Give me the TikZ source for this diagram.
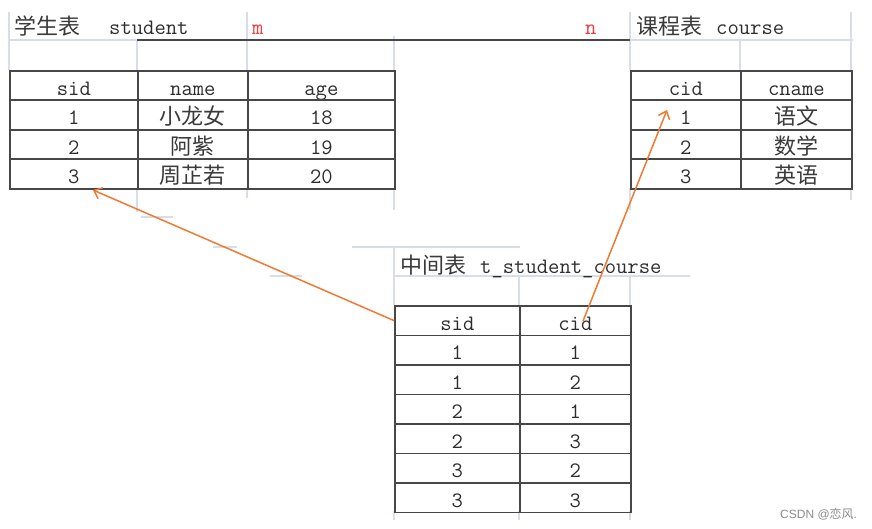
\documentclass[tikz,border=0pt]{standalone}
\usepackage{fontspec}
\newfontfamily\cjk{Noto Sans CJK SC}
\newfontfamily\wmfont{Liberation Sans}
\usetikzlibrary{arrows.meta,calc}
\definecolor{tbl}{HTML}{474747}
\definecolor{gridc}{HTML}{D8DDEA}
\definecolor{txt}{HTML}{2E2E2E}
\definecolor{cjkc}{HTML}{3A3A3A}
\definecolor{arr}{HTML}{F07A32}
\definecolor{mred}{HTML}{F03C3C}
\newcommand\tabfont{\ttfamily\addfontfeature{FakeBold=0.8}\fontsize{22}{24}\selectfont}
\newcommand\hz[1]{{\cjk\color{cjkc}#1}}
\tikzset{
  cellbox/.style={draw=tbl,line width=1.7pt,rectangle,inner sep=0pt,anchor=north west,
    minimum height=29.5pt,text height=19pt,text depth=0pt,font=\tabfont,text=txt},
  titletext/.style={anchor=base west,inner sep=0pt,font=\tabfont,text=txt},
  gridln/.style={draw=gridc,line width=1.5pt},
  conn/.style={draw=arr,line width=1.5pt,-{Straight Barb[length=7pt,width=12pt]}}
}
\newcommand\tcell[5]{\node[cellbox,minimum width=#4pt] (#1) at (#2,#3) {#5};}
\begin{document}
\begin{tikzpicture}[x=1pt,y=-1pt]
\fill[white] (0,0) rectangle (872,529);
\useasboundingbox (0,0) rectangle (872,529);
% light grid lines
\draw[gridln] (9,12) -- (9,70);
\draw[gridln] (9,40) -- (137,40);
\draw[gridln] (137,40) -- (137,70);
\draw[gridln] (247,12) -- (247,70);
\draw[gridln] (394,36) -- (394,70);
\draw[gridln] (137,188) -- (137,212);
\draw[gridln] (247,188) -- (247,198);
\draw[gridln] (394,188) -- (394,210);
\draw[gridln] (630,12) -- (630,70);
\draw[gridln] (740,40) -- (740,70);
\draw[gridln] (851,12) -- (851,70);
\draw[gridln] (630,40) -- (853,40);
\draw[gridln] (630,188) -- (630,210);
\draw[gridln] (851,188) -- (851,200);
\draw[gridln] (141,217) -- (173,217);
\draw[gridln] (213,247) -- (237,247);
\draw[gridln] (270,276) -- (302,276);
\draw[gridln] (352,247) -- (520,247);
\draw[gridln] (394,247) -- (394,305);
\draw[gridln] (393,276) -- (690,276);
\draw[gridln] (519,276) -- (519,305);
\draw[gridln] (630,276) -- (630,305);
\draw[gridln] (394,511) -- (394,520);
\draw[gridln] (519,511) -- (519,520);
\draw[gridln] (630,511) -- (630,520);
% dark line
\draw[draw=tbl,line width=1.8pt] (137,40) -- (630,40);
% titles
\node[titletext] (tstu) at (14,35) {\hz{学生表}\hspace{29pt}student};
\node[titletext,text=mred] (mlab) at (252,35) {m};
\node[titletext,text=mred] (nlab) at (585,35) {n};
\node[titletext] (tcou) at (636,35) {\hz{课程表}\hspace{14pt}course};
\node[titletext] (tmid) at (400,273) {\hz{中间表}\hspace{14pt}t\_student\_course};
% student table
\tcell{s-0-0}{9}{70}{128}{sid}
\tcell{s-0-1}{137}{70}{110}{name}
\tcell{s-0-2}{247}{70}{147}{age}
\tcell{s-1-0}{9}{99.5}{128}{1}
\tcell{s-1-1}{137}{99.5}{110}{\hz{小龙女}}
\tcell{s-1-2}{247}{99.5}{147}{18}
\tcell{s-2-0}{9}{129}{128}{2}
\tcell{s-2-1}{137}{129}{110}{\hz{阿紫}}
\tcell{s-2-2}{247}{129}{147}{19}
\tcell{s-3-0}{9}{158.5}{128}{3}
\tcell{s-3-1}{137}{158.5}{110}{\hz{周芷若}}
\tcell{s-3-2}{247}{158.5}{147}{20}
% course table
\tcell{c-0-0}{630}{70}{110}{cid}
\tcell{c-0-1}{740}{70}{111}{cname}
\tcell{c-1-0}{630}{99.5}{110}{1}
\tcell{c-1-1}{740}{99.5}{111}{\hz{语文}}
\tcell{c-2-0}{630}{129}{110}{2}
\tcell{c-2-1}{740}{129}{111}{\hz{数学}}
\tcell{c-3-0}{630}{158.5}{110}{3}
\tcell{c-3-1}{740}{158.5}{111}{\hz{英语}}
% middle table
\tcell{t-0-0}{394}{305}{125}{sid}
\tcell{t-0-1}{519}{305}{111}{cid}
\tcell{t-1-0}{394}{334.5}{125}{1}
\tcell{t-1-1}{519}{334.5}{111}{1}
\tcell{t-2-0}{394}{364}{125}{1}
\tcell{t-2-1}{519}{364}{111}{2}
\tcell{t-3-0}{394}{393.5}{125}{2}
\tcell{t-3-1}{519}{393.5}{111}{1}
\tcell{t-4-0}{394}{423}{125}{2}
\tcell{t-4-1}{519}{423}{111}{3}
\tcell{t-5-0}{394}{452.5}{125}{3}
\tcell{t-5-1}{519}{452.5}{111}{2}
\tcell{t-6-0}{394}{482}{125}{3}
\tcell{t-6-1}{519}{482}{111}{3}
% connectors
\coordinate (e1) at (93,190);
\coordinate (s2) at (583,321);
\coordinate (e2) at (667,110);
\draw[conn] (t-0-0.west) -- (e1);
\draw[conn] (s2) -- (e2);
% watermark
\node[anchor=base west,inner sep=0pt,text=black!45,font=\wmfont\fontsize{12}{14}\selectfont] (wm) at (780,518) {CSDN @{\cjk 恋风}.};
\end{tikzpicture}
\end{document}
